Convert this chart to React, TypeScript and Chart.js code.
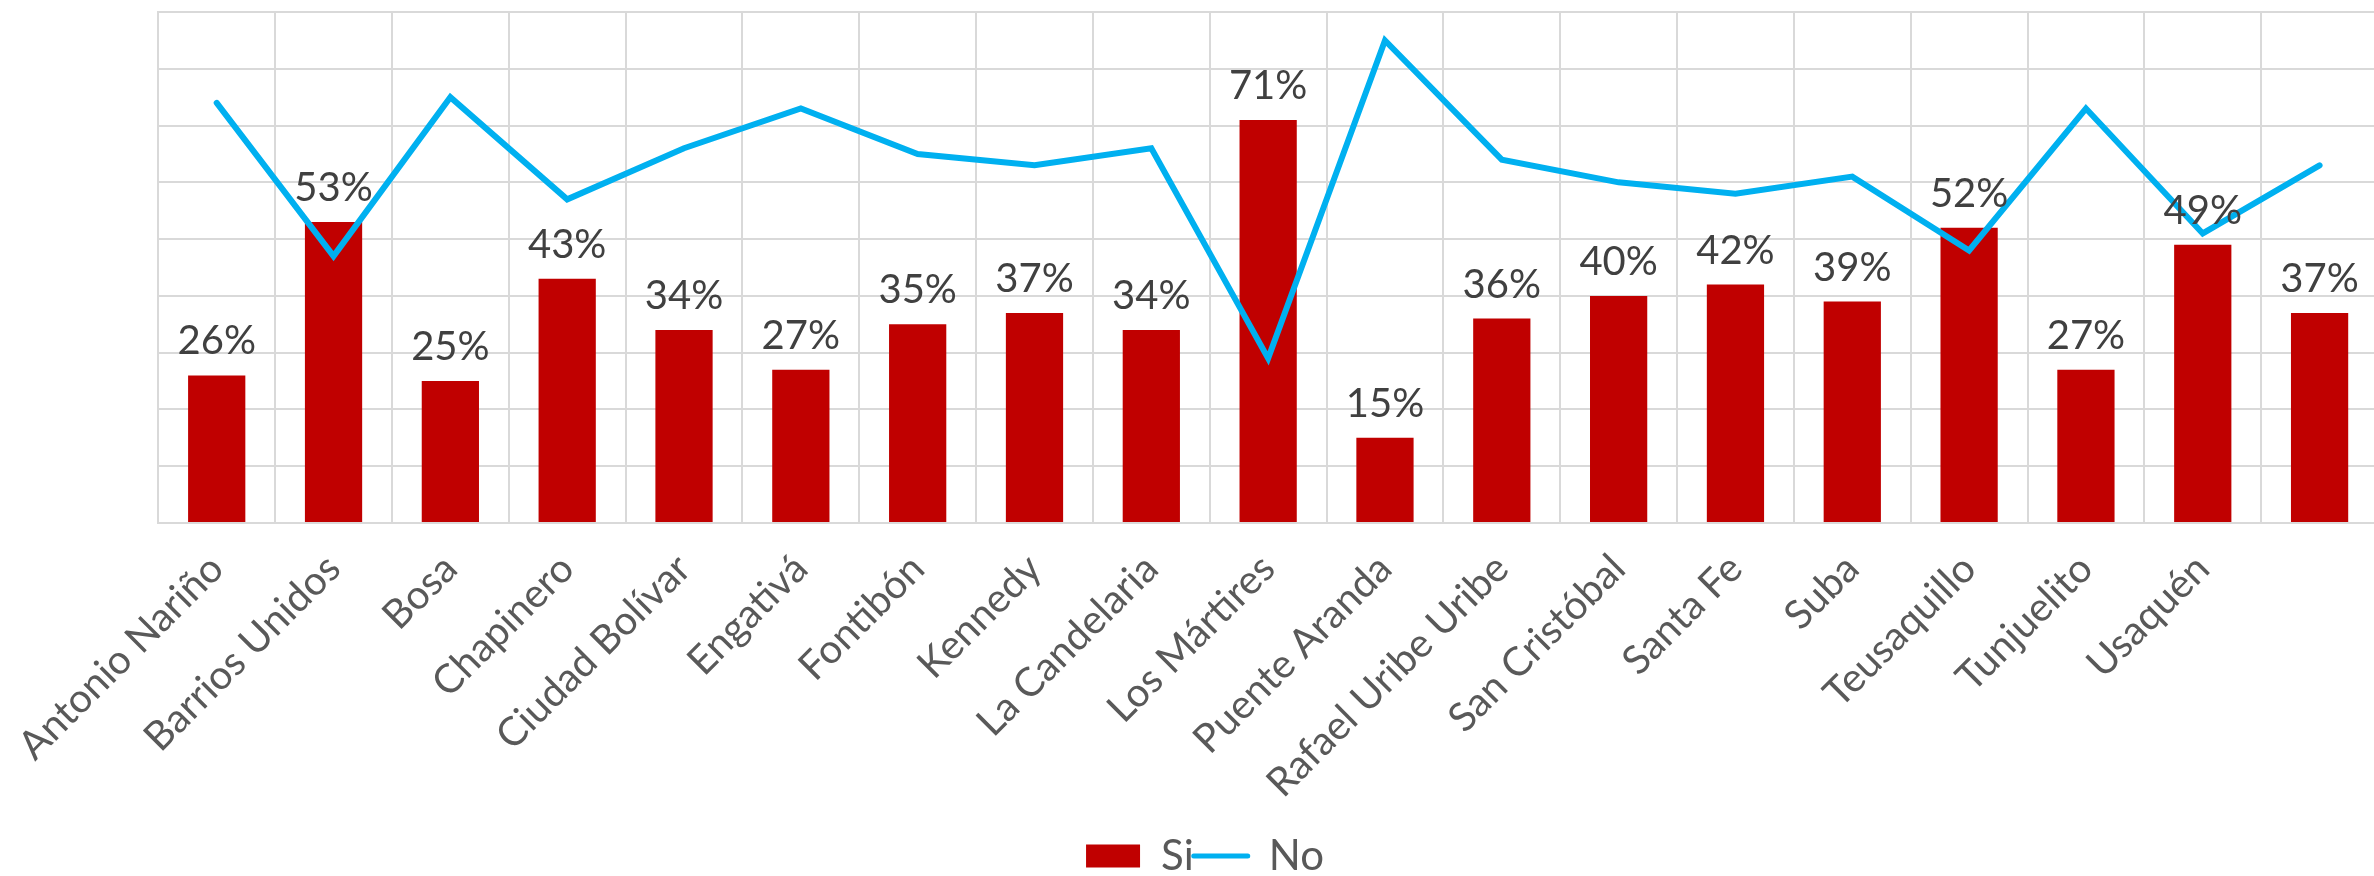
import React, { useEffect, useRef } from 'react';
import { Chart, registerables } from 'chart.js';

Chart.register(...registerables);

const categories = [
  'Antonio Nariño', 'Barrios Unidos', 'Bosa', 'Chapinero', 'Ciudad Bolívar', 'Engativá',
  'Fontibón', 'Kennedy', 'La Candelaria', 'Los Mártires', 'Puente Aranda', 'Rafael Uribe Uribe',
  'San Cristóbal', 'Santa Fe', 'Suba', 'Teusaquillo', 'Tunjuelito', 'Usaquén', '',
];
const siValues = [26, 53, 25, 43, 34, 27, 35, 37, 34, 71, 15, 36, 40, 42, 39, 52, 27, 49, 37];
const noValues = [74, 47, 75, 57, 66, 73, 65, 63, 66, 29, 85, 64, 60, 58, 61, 48, 73, 51, 63];
const yMin = 0;
const yMax = 90;
const yStep = 10;

const FONT = 'Lato, "Liberation Sans", sans-serif';

const barLabels = {
  id: 'barLabels',
  afterDatasetsDraw(chart: any) {
    const ctx = chart.ctx;
    const meta = chart.getDatasetMeta(0);
    ctx.save();
    ctx.font = `40px ${FONT}`;
    ctx.fillStyle = '#404040';
    ctx.textAlign = 'center';
    ctx.textBaseline = 'alphabetic';
    meta.data.forEach((el: any, i: number) => {
      ctx.fillText(siValues[i] + '%', el.x, el.y - 21);
    });
    ctx.restore();
  },
};

export default function App() {
  const ref = useRef<HTMLCanvasElement | null>(null);
  useEffect(() => {
    if (!ref.current) return;
    const chart = new Chart(ref.current, {
      type: 'bar',
      data: {
        labels: categories,
        datasets: [
          {
            type: 'bar',
            label: 'Si',
            data: siValues,
            backgroundColor: '#c00000',
            borderColor: '#c00000',
            barPercentage: 0.49,
            categoryPercentage: 1.0,
            order: 2,
          },
          {
            type: 'line',
            label: 'No',
            data: noValues,
            borderColor: '#00b0f0',
            backgroundColor: '#00b0f0',
            borderWidth: 6,
            pointRadius: 0,
            pointHoverRadius: 0,
            tension: 0,
            borderCapStyle: 'round',
            borderJoinStyle: 'miter',
            order: 1,
          },
        ],
      } as any,
      options: {
        responsive: false,
        animation: false,
        layout: { padding: { left: 32, top: 12, right: 2, bottom: -11 } },
        plugins: {
          tooltip: { enabled: false },
          legend: {
            position: 'bottom',
            labels: {
              usePointStyle: true,
              pointStyleWidth: 54,
              boxHeight: 23,
              padding: 0,
              color: '#595959',
              font: { family: FONT, size: 42 },
              generateLabels: (c: any) =>
                c.data.datasets.map((ds: any, i: number) => ({
                  text: ds.label,
                  fillStyle: ds.backgroundColor,
                  strokeStyle: ds.borderColor,
                  lineWidth: i === 0 ? 0 : 5,
                  lineCap: 'round',
                  pointStyle: i === 0 ? 'rect' : 'line',
                  datasetIndex: i,
                  hidden: false,
                  fontColor: '#595959',
                })),
            },
          },
        },
        scales: {
          x: {
            grid: { offset: true, color: '#d9d9d9', lineWidth: 2, drawTicks: false },
            border: { color: '#d9d9d9', width: 2 },
            ticks: {
              autoSkip: false,
              minRotation: 45,
              maxRotation: 45,
              padding: 22,
              color: '#595959',
              font: { family: FONT, size: 40 },
            },
            afterFit: (s: any) => {
              s.height = 312;
            },
          },
          y: {
            min: yMin,
            max: yMax,
            ticks: { stepSize: yStep, display: false },
            grid: { color: '#d9d9d9', lineWidth: 2, drawTicks: false },
            border: { color: '#d9d9d9', width: 2 },
            afterFit: (s: any) => {
              s.width = 118;
            },
          },
        },
      } as any,
      plugins: [barLabels],
    });
    return () => chart.destroy();
  }, []);

  return (
    <div
      style={{
        position: 'fixed',
        left: 0,
        top: 0,
        width: 2374,
        height: 876,
        overflow: 'hidden',
        background: '#ffffff',
      }}
    >
      <canvas ref={ref} width={2380} height={876} style={{ display: 'block', width: 2380, height: 876 }} />
    </div>
  );
}
